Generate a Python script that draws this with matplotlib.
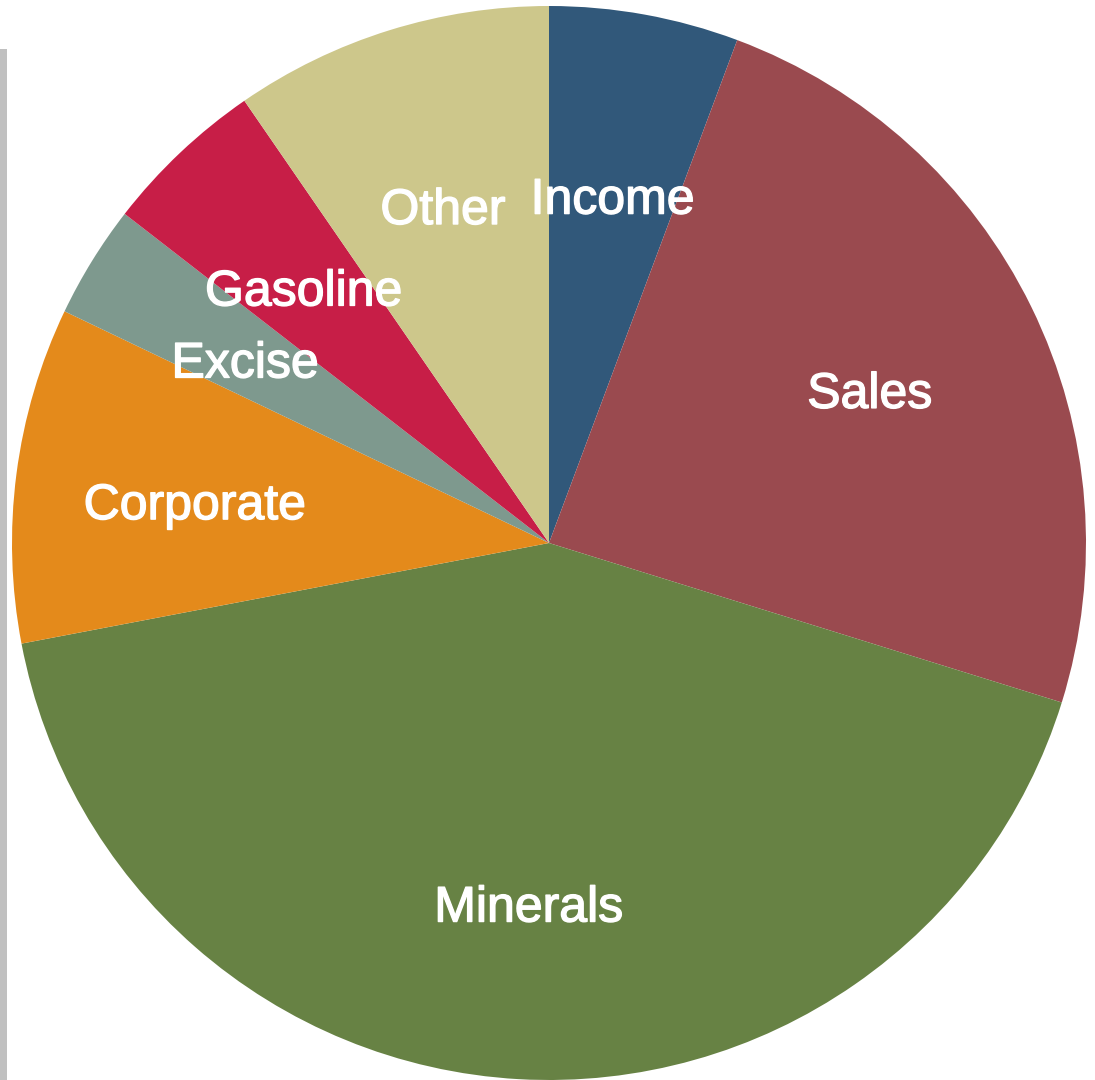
import matplotlib.pyplot as plt
import matplotlib.patheffects as pe
from matplotlib.patches import Rectangle

# revenue share by source, clockwise from 12 o'clock (percent)
SOURCES = ['Income', 'Sales', 'Minerals', 'Corporate', 'Excise', 'Gasoline', 'Other']
SHARES = [5.7, 24.1, 42.2, 10.1, 3.4, 4.9, 9.6]
COLORS = ['#31587a', '#9a4a4f', '#678244', '#e48a1b', '#7e998e', '#c71e47', '#cdc78b']

W, H = 1095, 1080


def main():
  fig = plt.figure(figsize=(W / 100, H / 100), dpi=100)
  ax = fig.add_axes([0, 0, 1, 1])

  _, texts = ax.pie(SHARES, labels=SOURCES, colors=COLORS, startangle=90,
                    counterclock=False, center=(549, 537), radius=537,
                    labeldistance=0.665, wedgeprops={'linewidth': 0})
  for txt in texts:
    x, y = txt.get_position()
    txt.set_position((x, y - 4))
    txt.set_ha('center')
    txt.set_va('center_baseline')
    txt.set_color('white')
    txt.set_fontsize(36)
    txt.set_family(['Liberation Sans', 'DejaVu Sans'])
    # slightly heavier glyphs
    txt.set_path_effects([pe.withStroke(linewidth=1.0, foreground='white')])

  # thin grey rule along the left edge
  ax.add_patch(Rectangle((0, 0), 7, H - 49, color='#c0c0c0', lw=0))

  ax.set_xlim(0, W)
  ax.set_ylim(0, H)
  ax.set_aspect('auto')
  ax.axis('off')
  fig.savefig('out.png', dpi=100)


if __name__ == '__main__':
  main()
